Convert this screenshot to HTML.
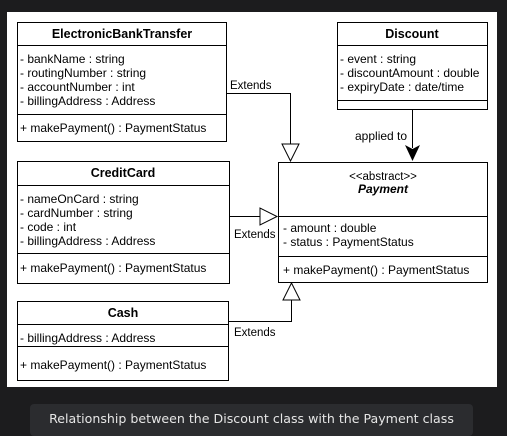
<!DOCTYPE html>
<html><head><meta charset="utf-8"><style>
body{margin:0;width:507px;height:434px;background:#1c1c1e;overflow:hidden;font-family:"Liberation Sans",sans-serif}
svg{position:absolute;left:0;top:0}
.cap{position:absolute;left:30px;top:404px;width:443px;height:32px;background:#2b2c2f;border-radius:4px;color:#e6e6e6;font-size:12.6px;text-align:center;line-height:30px;font-family:"DejaVu Sans","Liberation Sans",sans-serif}
</style></head><body>
<svg width="507" height="434" font-family="Liberation Sans, sans-serif" font-size="12">
<rect x="7" y="12" width="490" height="375" fill="#fff"/>
<g fill="none" stroke="#000" stroke-width="1">
<rect x="17.5" y="22.5" width="209" height="119"/><line x1="17" y1="45.5" x2="227" y2="45.5"/><line x1="17" y1="114.5" x2="227" y2="114.5"/>
<rect x="17.5" y="161.5" width="212" height="122"/><line x1="17" y1="185.5" x2="230" y2="185.5"/><line x1="17" y1="253.5" x2="230" y2="253.5"/>
<rect x="17.5" y="301.5" width="211" height="79"/><line x1="17" y1="324.5" x2="229" y2="324.5"/><line x1="17" y1="346.5" x2="229" y2="346.5"/>
<rect x="337.5" y="22.5" width="150" height="87"/><line x1="337" y1="45.5" x2="488" y2="45.5"/><line x1="337" y1="100.5" x2="488" y2="100.5"/>
<rect x="278.5" y="162.5" width="209" height="120"/><line x1="278" y1="216.5" x2="488" y2="216.5"/><line x1="278" y1="256.5" x2="488" y2="256.5"/>
<polyline points="227,93.5 290.5,93.5 290.5,144"/>
<polygon points="282,144 299,144 290.5,161" fill="#fff"/>
<line x1="230" y1="216.5" x2="260" y2="216.5"/>
<polygon points="260,208 260,225 277,216.5" fill="#fff"/>
<polyline points="229,321.5 291.5,321.5 291.5,300"/>
<polygon points="283,300 300,300 291.5,283" fill="#fff"/>
<line x1="412.5" y1="110" x2="412.5" y2="148"/>
</g>
<polygon points="405,145 412.5,161 420,145 412.5,149" fill="#000"/>
<g font-weight="bold" text-anchor="middle" font-size="12.5">
<text x="122" y="38">ElectronicBankTransfer</text>
<text x="123" y="177">CreditCard</text>
<text x="123" y="317">Cash</text>
<text x="412" y="38">Discount</text>
<text x="383" y="193" font-style="italic" font-size="12">Payment</text>
</g>
<text x="383" y="180" text-anchor="middle" font-size="11.5">&lt;&lt;abstract&gt;&gt;</text>
<g>
<text x="20" y="63">- bankName : string</text>
<text x="20" y="77">- routingNumber : string</text>
<text x="20" y="91">- accountNumber : int</text>
<text x="20" y="105">- billingAddress : Address</text>
<text x="20" y="132">+ makePayment() : PaymentStatus</text>
<text x="20" y="203">- nameOnCard : string</text>
<text x="20" y="217">- cardNumber : string</text>
<text x="20" y="231">- code : int</text>
<text x="20" y="245">- billingAddress : Address</text>
<text x="20" y="272">+ makePayment() : PaymentStatus</text>
<text x="20" y="342">- billingAddress : Address</text>
<text x="20" y="369">+ makePayment() : PaymentStatus</text>
<text x="340" y="63">- event : string</text>
<text x="340" y="77">- discountAmount : double</text>
<text x="340" y="91">- expiryDate : date/time</text>
<text x="283" y="232">- amount : double</text>
<text x="283" y="246">- status : PaymentStatus</text>
<text x="283" y="274">+ makePayment() : PaymentStatus</text>
<text x="355" y="140">applied to</text>
</g>
<g font-size="11.5">
<text x="230" y="89">Extends</text>
<text x="234" y="238">Extends</text>
<text x="234" y="336">Extends</text>
</g>
</svg>
<div class="cap">Relationship between the Discount class with the Payment class</div>
</body></html>
